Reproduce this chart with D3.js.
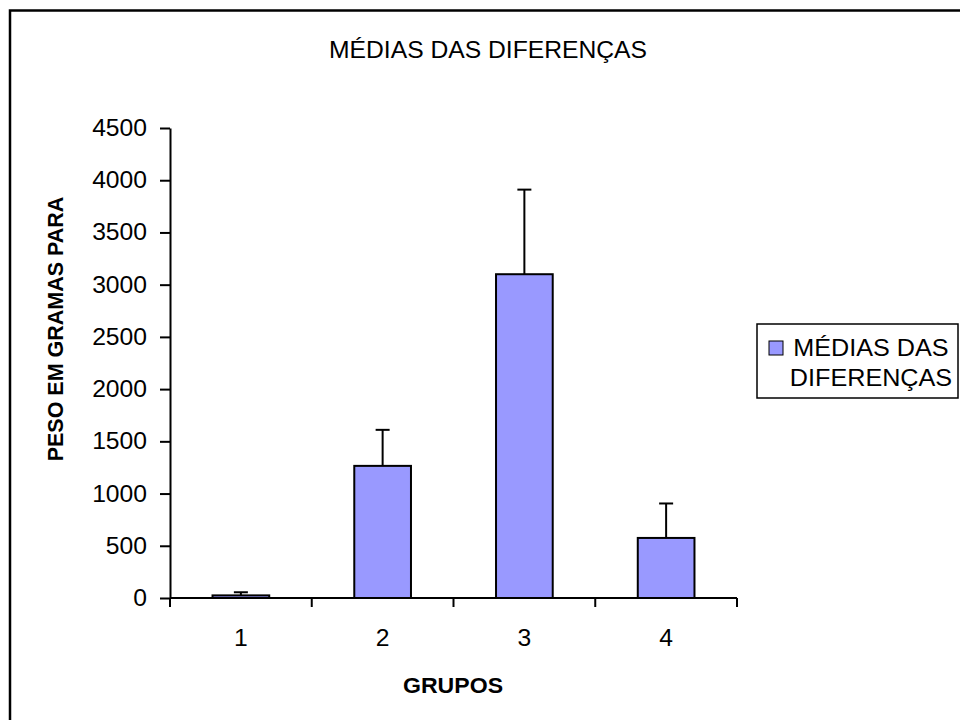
<!DOCTYPE html>
<html>
<head>
	<meta charset="utf-8">
	<title>MÉDIAS DAS DIFERENÇAS</title>
	<style>
	body { margin: 0; background: #fff; }
	svg { display: block; font-family: "Liberation Sans", Arial, sans-serif; }
	</style>
	<script src="https://cdn.jsdelivr.net/npm/d3@7/dist/d3.min.js"></script>
</head>
<body>
<svg width="960" height="720"></svg>
<script>
	// dados
	var grupos = ["1", "2", "3", "4"];
	var medias = [25, 1265, 3100, 575];
	var erros = [30, 345, 810, 330];
	var ticksY = [0, 500, 1000, 1500, 2000, 2500, 3000, 3500, 4000, 4500];
	var legenda = ["MÉDIAS DAS", "DIFERENÇAS"];

	var k = 1.05; // o original esta levemente esticado na horizontal
	var cor = "#9999ff";

	function estica(sel) {
		sel.each(function() {
			var t = d3.select(this);
			var x = +t.attr("x") || 0;
			t.attr("x", x / k).attr("transform", "scale(" + k + ",1)");
		});
	}

	var svg = d3.select("svg");

	// moldura externa (cortada a direita e embaixo)
	svg.append("rect")
		.attr("x", 10).attr("y", 10.5)
		.attr("width", 1000).attr("height", 800)
		.attr("fill", "none").attr("stroke", "#000").attr("stroke-width", 2.5);

	var data = grupos.map(function(g, i) { return {grupo: g, media: medias[i], erro: erros[i]}; });

	var x = d3.scaleBand().domain(grupos).range([170, 737]).paddingInner(0.6).paddingOuter(0.3);
	var y = d3.scaleLinear().domain([0, 4500]).range([598, 128]);

	// titulo
	svg.append("text")
		.attr("x", 488).attr("y", 58)
		.attr("text-anchor", "middle")
		.attr("font-size", 23.5)
		.text("MÉDIAS DAS DIFERENÇAS")
		.call(estica);

	var g = svg.append("g");

	// barras
	g.selectAll("rect.barra")
		.data(data)
		.enter().append("rect")
		.attr("class", "barra")
		.attr("x", function(d) { return x(d.grupo); })
		.attr("y", function(d) { return y(d.media); })
		.attr("width", x.bandwidth())
		.attr("height", function(d) { return y(0) - y(d.media); })
		.attr("fill", cor)
		.attr("stroke", "#000")
		.attr("stroke-width", 2);

	// barras de erro (so para cima)
	var eb = g.selectAll("g.erro")
		.data(data)
		.enter().append("g")
		.attr("class", "erro")
		.attr("stroke", "#000")
		.attr("stroke-width", 2);

	eb.append("line")
		.attr("x1", function(d) { return x(d.grupo) + x.bandwidth() / 2; })
		.attr("x2", function(d) { return x(d.grupo) + x.bandwidth() / 2; })
		.attr("y1", function(d) { return y(d.media); })
		.attr("y2", function(d) { return y(d.media + d.erro); });

	eb.append("line")
		.attr("x1", function(d) { return x(d.grupo) + x.bandwidth() / 2 - 7; })
		.attr("x2", function(d) { return x(d.grupo) + x.bandwidth() / 2 + 7; })
		.attr("y1", function(d) { return y(d.media + d.erro); })
		.attr("y2", function(d) { return y(d.media + d.erro); });

	// eixo Y
	var eixoY = g.append("g")
		.attr("transform", "translate(170,0)")
		.call(d3.axisLeft(y).tickValues(ticksY).tickFormat(d3.format("d"))
			.tickSize(10).tickPadding(13).tickSizeOuter(0));
	eixoY.select(".domain").attr("stroke-width", 2);
	eixoY.selectAll(".tick line").attr("stroke-width", 2);
	eixoY.selectAll(".tick text")
		.attr("font-size", 23.5)
		.attr("font-family", "Liberation Sans, Arial, sans-serif")
		.attr("fill", "#000")
		.call(estica);

	// eixo X (marcas entre as categorias)
	var x0 = x.range()[0], passo = x.step();
	g.append("line")
		.attr("x1", x.range()[0]).attr("x2", x.range()[1])
		.attr("y1", y(0)).attr("y2", y(0))
		.attr("stroke", "#000").attr("stroke-width", 2);

	g.selectAll("line.marcaX")
		.data(d3.range(grupos.length + 1))
		.enter().append("line")
		.attr("class", "marcaX")
		.attr("x1", function(i) { return x0 + i * passo; })
		.attr("x2", function(i) { return x0 + i * passo; })
		.attr("y1", y(0)).attr("y2", y(0) + 9)
		.attr("stroke", "#000").attr("stroke-width", 2);

	g.selectAll("text.rotX")
		.data(grupos)
		.enter().append("text")
		.attr("class", "rotX")
		.attr("x", function(d) { return x(d) + x.bandwidth() / 2; })
		.attr("y", 646)
		.attr("text-anchor", "middle")
		.attr("font-size", 23.5)
		.text(function(d) { return d; })
		.call(estica);

	// titulos dos eixos
	svg.append("text")
		.attr("x", 453).attr("y", 693)
		.attr("text-anchor", "middle")
		.attr("font-size", 22)
		.attr("font-weight", "bold")
		.text("GRUPOS")
		.call(estica);

	svg.append("text")
		.attr("transform", "translate(63,329) rotate(-90) scale(1," + k + ")")
		.attr("text-anchor", "middle")
		.attr("font-size", 21.5)
		.attr("font-weight", "bold")
		.text("PESO EM GRAMAS PARA");

	// legenda
	var leg = svg.append("g");
	leg.append("rect")
		.attr("x", 757).attr("y", 324)
		.attr("width", 201).attr("height", 74)
		.attr("fill", "#fff").attr("stroke", "#000").attr("stroke-width", 1.5);
	leg.append("rect")
		.attr("x", 769).attr("y", 341)
		.attr("width", 14).attr("height", 14)
		.attr("fill", cor).attr("stroke", "#000").attr("stroke-width", 1);
	leg.selectAll("text")
		.data(legenda)
		.enter().append("text")
		.attr("x", 871)
		.attr("y", function(d, i) { return 356 + i * 30; })
		.attr("text-anchor", "middle")
		.attr("font-size", 24)
		.text(function(d) { return d; })
		.call(estica);
</script>
</body>
</html>
